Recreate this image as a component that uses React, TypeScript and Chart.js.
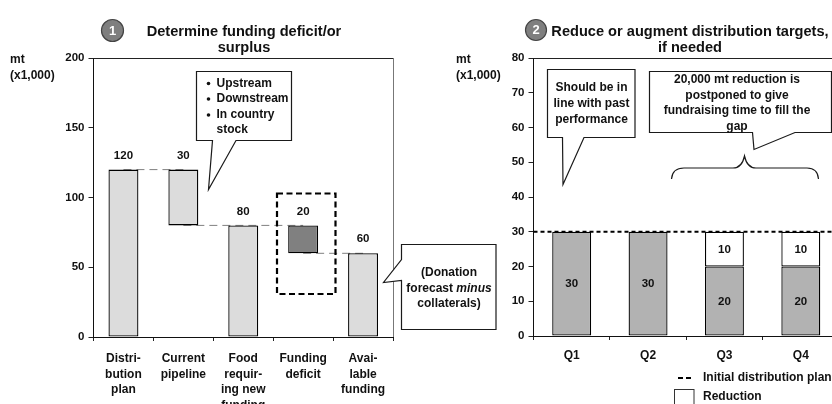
import React, { useEffect, useRef } from "react";
import { Chart, registerables } from "chart.js";

Chart.register(...registerables);

const FONT = '"Liberation Sans", Arial, sans-serif';

// Left chart: funding waterfall
const fundingCategories = [
  ["Distri-", "bution", "plan"],
  ["Current", "pipeline"],
  ["Food", "requir-", "ing new", "funding"],
  ["Funding", "deficit"],
  ["Avai-", "lable", "funding"],
];
const fundingBase = [0, 80, 0, 60, 0];
const fundingTop = [120, 120, 80, 80, 60];
const fundingLabels = ["120", "30", "80", "20", "60"];
const fundingColors = ["#dcdcdc", "#dcdcdc", "#dcdcdc", "#808080", "#dcdcdc"];
const connectorA = [120, 120, null, null, null];
const connectorB = [null, 80, 80, 80, null];
const connectorC = [null, null, null, 60, 60];
const fundingTicks = [0, 50, 100, 150, 200];

// Right chart: quarterly distribution targets
const quarters = ["Q1", "Q2", "Q3", "Q4"];
const targetValues = [30, 30, 20, 20];
const reductionValues = [null, null, 10, 10];
const initialPlanLevel = 30;

const titleLeft = ["Determine funding deficit/or", "surplus"];
const titleRight = ["Reduce or augment distribution targets,", "if needed"];
const unitLines = ["mt", "(x1,000)"];
const bulletLines = [["Upstream"], ["Downstream"], ["In country", "stock"]];
const donationLines = ["(Donation", "collaterals)"];
const pastLines = ["Should be in", "line with past", "performance"];
const postponeLines = ["20,000 mt reduction is", "postponed to give", "fundraising time to fill the", "gap"];
const legendLabels = ["Initial distribution plan", "Reduction"];

type Pt = [number, number];

function bold(ctx: CanvasRenderingContext2D, size = 12) {
  ctx.font = `bold ${size}px ${FONT}`;
  ctx.fillStyle = "#111";
  ctx.textBaseline = "middle";
}

function callout(ctx: CanvasRenderingContext2D, pts: Pt[]) {
  ctx.save();
  ctx.beginPath();
  pts.forEach(([x, y], i) => (i ? ctx.lineTo(x, y) : ctx.moveTo(x, y)));
  ctx.closePath();
  ctx.fillStyle = "#fff";
  ctx.fill();
  ctx.lineWidth = 1.2;
  ctx.strokeStyle = "#1a1a1a";
  ctx.stroke();
  ctx.restore();
}

function centered(ctx: CanvasRenderingContext2D, lines: string[], x: number, ys: number[], size = 12) {
  bold(ctx, size);
  ctx.textAlign = "center";
  lines.forEach((l, i) => ctx.fillText(l, x, ys[i]));
}

function badge(ctx: CanvasRenderingContext2D, x: number, y: number, r: number, label: string) {
  ctx.save();
  ctx.beginPath();
  ctx.arc(x, y, r, 0, Math.PI * 2);
  ctx.fillStyle = "#7f7f7f";
  ctx.fill();
  ctx.lineWidth = 1.2;
  ctx.strokeStyle = "#444";
  ctx.stroke();
  ctx.font = `bold 13px ${FONT}`;
  ctx.fillStyle = "#fff";
  ctx.textAlign = "center";
  ctx.textBaseline = "middle";
  ctx.fillText(label, x, y + 0.5);
  ctx.restore();
}

function frame(ctx: CanvasRenderingContext2D, chart: any) {
  const a = chart.chartArea;
  ctx.save();
  ctx.lineWidth = 1;
  ctx.strokeStyle = "#222";
  ctx.beginPath();
  ctx.moveTo(a.left, Math.round(a.top) + 0.5);
  ctx.lineTo(a.right, Math.round(a.top) + 0.5);
  ctx.stroke();
  ctx.strokeStyle = "#777";
  ctx.beginPath();
  ctx.moveTo(Math.round(a.right) + 0.5, a.top);
  ctx.lineTo(Math.round(a.right) + 0.5, a.bottom);
  ctx.stroke();
  ctx.restore();
}

const leftPlugin = {
  id: "leftNotes",
  afterDraw(chart: any) {
    const ctx: CanvasRenderingContext2D = chart.ctx;
    ctx.save();
    frame(ctx, chart);
    centered(ctx, titleLeft, 244, [32, 48], 14.6);
    badge(ctx, 112.5, 30.5, 11, "1");
    bold(ctx);
    ctx.textAlign = "left";
    unitLines.forEach((l, i) => ctx.fillText(l, 10, 60 + i * 16));

    // value labels above each bar
    const meta = chart.getDatasetMeta(0);
    const y = chart.scales.y;
    meta.data.forEach((bar: any, i: number) => {
      centered(ctx, [fundingLabels[i]], bar.x, [y.getPixelForValue(fundingTop[i]) - 14], 11.5);
    });

    // dashed box around the deficit
    ctx.save();
    ctx.setLineDash([6, 3.5]);
    ctx.lineWidth = 2.2;
    ctx.strokeStyle = "#000";
    ctx.strokeRect(277, 193.5, 58.5, 100.5);
    ctx.restore();

    callout(ctx, [[196.5, 71.5], [291.5, 71.5], [291.5, 140.5], [236, 140.5], [208.5, 189.5], [212.5, 140.5], [196.5, 140.5]]);
    bold(ctx);
    ctx.textAlign = "left";
    const ys = [83.5, 99, 115, 130];
    let row = 0;
    bulletLines.forEach((item) => {
      ctx.beginPath();
      ctx.arc(208.5, ys[row], 1.8, 0, Math.PI * 2);
      ctx.fill();
      item.forEach((l) => {
        ctx.fillText(l, 216.5, ys[row]);
        row++;
      });
    });

    callout(ctx, [[401.5, 244.5], [496, 244.5], [496, 329.5], [401.5, 329.5], [401.5, 280.5], [383.5, 282.5], [401.5, 259.5]]);
    centered(ctx, [donationLines[0]], 449, [272.5]);
    centered(ctx, [donationLines[1]], 449, [304]);
    bold(ctx);
    ctx.textAlign = "left";
    const w1 = ctx.measureText("forecast ").width;
    ctx.font = `italic bold 12px ${FONT}`;
    const w2 = ctx.measureText("minus").width;
    const sx = 449 - (w1 + w2) / 2;
    ctx.font = `bold 12px ${FONT}`;
    ctx.fillText("forecast ", sx, 288.5);
    ctx.font = `italic bold 12px ${FONT}`;
    ctx.fillText("minus", sx + w1, 288.5);
    ctx.restore();
  },
};

const rightPlugin = {
  id: "rightNotes",
  afterDatasetsDraw(chart: any) {
    // Initial distribution plan: full-width dashed level line
    const ctx: CanvasRenderingContext2D = chart.ctx;
    const a = chart.chartArea;
    const yy = chart.scales.y.getPixelForValue(initialPlanLevel);
    ctx.save();
    ctx.setLineDash([4, 3]);
    ctx.lineWidth = 2;
    ctx.strokeStyle = "#000";
    ctx.beginPath();
    ctx.moveTo(a.left, yy);
    ctx.lineTo(a.right, yy);
    ctx.stroke();
    ctx.restore();
  },
  afterDraw(chart: any) {
    const ctx: CanvasRenderingContext2D = chart.ctx;
    ctx.save();
    frame(ctx, chart);
    centered(ctx, titleRight, 690, [32, 48], 14.6);
    badge(ctx, 536, 30, 10.5, "2");
    bold(ctx);
    ctx.textAlign = "left";
    unitLines.forEach((l, i) => ctx.fillText(l, 456, 60 + i * 16));

    // value labels centred in each segment
    [
      { idx: 0, values: targetValues },
      { idx: 1, values: reductionValues },
    ].forEach(({ idx, values }) => {
      chart.getDatasetMeta(idx).data.forEach((bar: any, i: number) => {
        if (values[i] == null) return;
        centered(ctx, [String(values[i])], bar.x, [(bar.y + bar.base) / 2 + 0.5], 11.5);
      });
    });

    callout(ctx, [[547.5, 69.5], [635, 69.5], [635, 137.5], [584, 137.5], [563, 184.5], [562.5, 137.5], [547.5, 137.5]]);
    centered(ctx, pastLines, 591.5, [88, 104, 120]);

    callout(ctx, [[649.5, 71.5], [831.5, 71.5], [831.5, 132.5], [795, 132.5], [754, 149.5], [752.5, 132.5], [649.5, 132.5]]);
    centered(ctx, postponeLines, 737, [80, 96, 111, 127]);

    // curly brace
    ctx.save();
    ctx.lineWidth = 1.2;
    ctx.strokeStyle = "#1a1a1a";
    ctx.beginPath();
    ctx.moveTo(671.5, 179);
    ctx.bezierCurveTo(672, 172, 676, 168, 684, 168);
    ctx.lineTo(733, 168);
    ctx.bezierCurveTo(739, 168, 743, 163, 744.5, 156);
    ctx.bezierCurveTo(746, 163, 750, 168, 756, 168);
    ctx.lineTo(807, 168);
    ctx.bezierCurveTo(814, 168, 818, 172, 818.5, 179);
    ctx.stroke();
    ctx.restore();

    // legend
    ctx.save();
    ctx.setLineDash([5, 3]);
    ctx.lineWidth = 2;
    ctx.strokeStyle = "#000";
    ctx.beginPath();
    ctx.moveTo(678, 378);
    ctx.lineTo(694, 378);
    ctx.stroke();
    ctx.restore();
    ctx.save();
    ctx.lineWidth = 1;
    ctx.strokeStyle = "#333";
    ctx.fillStyle = "#fff";
    ctx.fillRect(674.5, 389.5, 19.5, 19);
    ctx.strokeRect(674.5, 389.5, 19.5, 19);
    ctx.restore();
    bold(ctx);
    ctx.textAlign = "left";
    ctx.fillText(legendLabels[0], 703, 378);
    ctx.fillText(legendLabels[1], 703, 397);
    ctx.restore();
  },
};

const catFont = { family: FONT, size: 12, weight: "bold" as const, lineHeight: 1.3 };
const tickFont = { family: FONT, size: 11.5, weight: "bold" as const, lineHeight: 1.3 };

function connector(data: (number | null)[]) {
  return {
    type: "line" as const,
    data,
    borderColor: "#808080",
    borderWidth: 1,
    borderDash: [8, 5],
    pointRadius: 0,
    spanGaps: false,
    order: 2,
  };
}

export default function App() {
  const leftRef = useRef<HTMLCanvasElement>(null);
  const rightRef = useRef<HTMLCanvasElement>(null);

  useEffect(() => {
    const left = new Chart(leftRef.current!, {
      type: "bar",
      data: {
        labels: fundingCategories as any,
        datasets: [
          {
            data: fundingBase.map((b, i) => [b, fundingTop[i]]) as any,
            backgroundColor: fundingColors,
            borderColor: "#000",
            borderWidth: 1.3,
            borderSkipped: false,
            barPercentage: 0.5,
            categoryPercentage: 1,
            order: 1,
          },
          connector(connectorA) as any,
          connector(connectorB) as any,
          connector(connectorC) as any,
        ],
      },
      options: {
        animation: false,
        responsive: false,
        layout: { autoPadding: false, padding: { top: 58, right: 848 - 393, left: 0, bottom: 0 } },
        plugins: { legend: { display: false }, title: { display: false }, tooltip: { enabled: false } },
        scales: {
          x: {
            afterFit: (s: any) => { s.height = 67; },
            grid: { drawOnChartArea: false, drawTicks: true, tickLength: 4, color: "#222" },
            border: { color: "#111", width: 1 },
            ticks: { font: catFont, color: "#111", padding: 10, autoSkip: false, maxRotation: 0 },
          },
          y: {
            min: 0,
            max: 200,
            afterFit: (s: any) => { s.width = 93.5; },
            afterBuildTicks: (s: any) => { s.ticks = fundingTicks.map((value) => ({ value })); },
            grid: { drawOnChartArea: false, drawTicks: true, tickLength: 5, color: "#222" },
            border: { color: "#111", width: 1 },
            ticks: { font: tickFont, color: "#111", padding: 4 },
          },
        },
      },
      plugins: [leftPlugin],
    });

    const right = new Chart(rightRef.current!, {
      type: "bar",
      data: {
        labels: quarters,
        datasets: [
          {
            label: "Target",
            data: targetValues,
            backgroundColor: "#b2b2b2",
            borderColor: "#000",
            borderWidth: 1.3,
            borderSkipped: false,
            barPercentage: 0.51,
            categoryPercentage: 1,
          },
          {
            label: legendLabels[1],
            data: reductionValues,
            backgroundColor: "#ffffff",
            borderColor: "#000",
            borderWidth: 1.3,
            borderSkipped: false,
            barPercentage: 0.51,
            categoryPercentage: 1,
          },
        ],
      },
      options: {
        animation: false,
        responsive: false,
        layout: { autoPadding: false, padding: { top: 58, right: 9, left: 440, bottom: 0 } },
        plugins: { legend: { display: false }, title: { display: false }, tooltip: { enabled: false } },
        scales: {
          x: {
            stacked: true,
            afterFit: (s: any) => { s.height = 68; },
            grid: { drawOnChartArea: false, drawTicks: true, tickLength: 4, color: "#222" },
            border: { color: "#111", width: 1 },
            ticks: { font: catFont, color: "#111", padding: 8, autoSkip: false, maxRotation: 0 },
          },
          y: {
            stacked: true,
            min: 0,
            max: 80,
            ticks: { stepSize: 10, font: tickFont, color: "#111", padding: 4 },
            afterFit: (s: any) => { s.width = 93.5; },
            grid: { drawOnChartArea: false, drawTicks: true, tickLength: 5, color: "#222" },
            border: { color: "#111", width: 1 },
          },
        },
      },
      plugins: [rightPlugin],
    });

    return () => {
      left.destroy();
      right.destroy();
    };
  }, []);

  const style: React.CSSProperties = { position: "absolute", left: 0, top: 0, display: "block" };
  return (
    <div style={{ position: "fixed", left: 0, top: 0, width: 832, height: 404, overflow: "hidden", background: "#fff" }}>
      <canvas ref={leftRef} width={848} height={404} style={style} />
      <canvas ref={rightRef} width={848} height={404} style={style} />
    </div>
  );
}
